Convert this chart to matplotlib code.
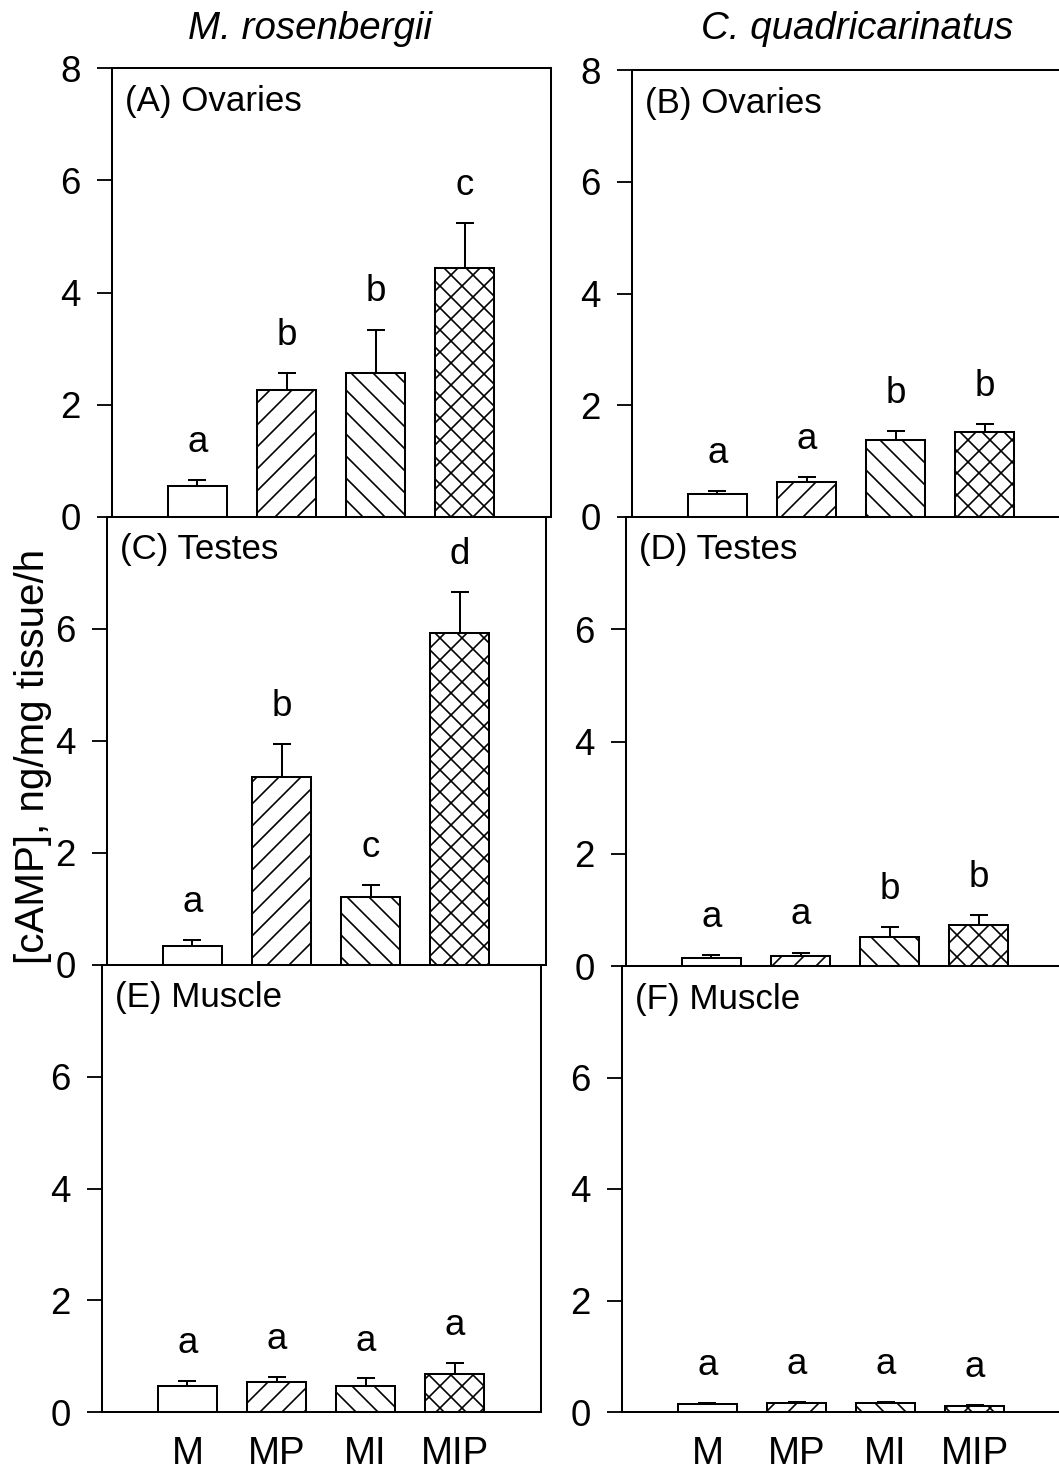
import matplotlib
matplotlib.use("Agg")
import matplotlib.pyplot as plt

plt.rcParams["font.family"] = ["Liberation Sans", "DejaVu Sans"]
plt.rcParams["hatch.linewidth"] = 0.9
plt.rcParams["hatch.color"] = "black"

# treatment groups
groups = ["M", "MP", "MI", "MIP"]

# M. rosenbergii
mr_ovaries = [0.55, 2.26, 2.57, 4.43]
mr_ovaries_se = [0.11, 0.31, 0.77, 0.80]
mr_ovaries_sig = ["a", "b", "b", "c"]
mr_testes = [0.34, 3.35, 1.22, 5.92]
mr_testes_se = [0.11, 0.59, 0.21, 0.74]
mr_testes_sig = ["a", "b", "c", "d"]
mr_muscle = [0.47, 0.53, 0.46, 0.68]
mr_muscle_se = [0.09, 0.09, 0.14, 0.20]
mr_muscle_sig = ["a", "a", "a", "a"]

# C. quadricarinatus
cq_ovaries = [0.42, 0.63, 1.37, 1.52]
cq_ovaries_se = [0.05, 0.09, 0.17, 0.14]
cq_ovaries_sig = ["a", "a", "b", "b"]
cq_testes = [0.15, 0.17, 0.52, 0.73]
cq_testes_se = [0.05, 0.07, 0.17, 0.17]
cq_testes_sig = ["a", "a", "b", "b"]
cq_muscle = [0.15, 0.16, 0.16, 0.10]
cq_muscle_se = [0.01, 0.02, 0.02, 0.02]
cq_muscle_sig = ["a", "a", "a", "a"]

W, H = 1059, 1475
DPI = 132
fig = plt.figure(figsize=(W / DPI, H / DPI), dpi=DPI)

hatches = ["", "//", "\\\\", "xx"]


def add_panel(left, top, bottom, label, vals, se, sig, top_panel, bottom_panel):
    width = 439
    ax = fig.add_axes([left / W, 1 - bottom / H, width / W, (bottom - top) / H])
    x = list(range(len(groups)))
    ax.bar(x, vals, width=0.66, color="white", edgecolor="black",
           linewidth=1.1, hatch=hatches, zorder=2)
    ax.errorbar(x, vals, yerr=[[0] * len(se), se], fmt="none", ecolor="black",
                elinewidth=1.1, capsize=5, capthick=1.1, zorder=3)
    for xi, v, e, s in zip(x, vals, se, sig):
        ax.text(xi, v + e + 0.5, s, ha="center", va="baseline", fontsize=20)
    ax.set_xlim(-0.96, 3.97)
    ax.set_ylim(0, 8)
    ax.set_yticks([0, 2, 4, 6, 8] if top_panel else [0, 2, 4, 6])
    ax.tick_params(axis="y", direction="out", length=8, width=1.0,
                   labelsize=20, pad=9)
    if bottom_panel:
        ax.set_xticks(x)
        ax.set_xticklabels(groups, fontsize=21)
        ax.tick_params(axis="x", length=0, pad=13)
    else:
        ax.set_xticks([])
    for sp in ax.spines.values():
        sp.set_linewidth(1.1)
    ax.annotate(label, xy=(0, 1), xycoords="axes fraction", xytext=(7, -18),
                textcoords="offset points", ha="left", va="center", fontsize=19)
    return ax


add_panel(112, 68, 517, "(A) Ovaries", mr_ovaries, mr_ovaries_se, mr_ovaries_sig, True, False)
add_panel(107, 517, 965, "(C) Testes", mr_testes, mr_testes_se, mr_testes_sig, False, False)
add_panel(102, 965, 1412, "(E) Muscle", mr_muscle, mr_muscle_se, mr_muscle_sig, False, True)

add_panel(632, 70, 517, "(B) Ovaries", cq_ovaries, cq_ovaries_se, cq_ovaries_sig, True, False)
add_panel(626, 517, 966, "(D) Testes", cq_testes, cq_testes_se, cq_testes_sig, False, False)
add_panel(622, 966, 1412, "(F) Muscle", cq_muscle, cq_muscle_se, cq_muscle_sig, False, True)

fig.text(310 / W, 1 - 39 / H, "M. rosenbergii", ha="center", va="baseline",
         fontsize=21, style="italic")
fig.text(857 / W, 1 - 39 / H, "C. quadricarinatus", ha="center", va="baseline",
         fontsize=21, style="italic")
fig.text(33 / W, 1 - 756 / H, "[cAMP], ng/mg tissue/h", ha="center", va="center",
         rotation=90, fontsize=22)

fig.savefig("out.png", dpi=DPI)
